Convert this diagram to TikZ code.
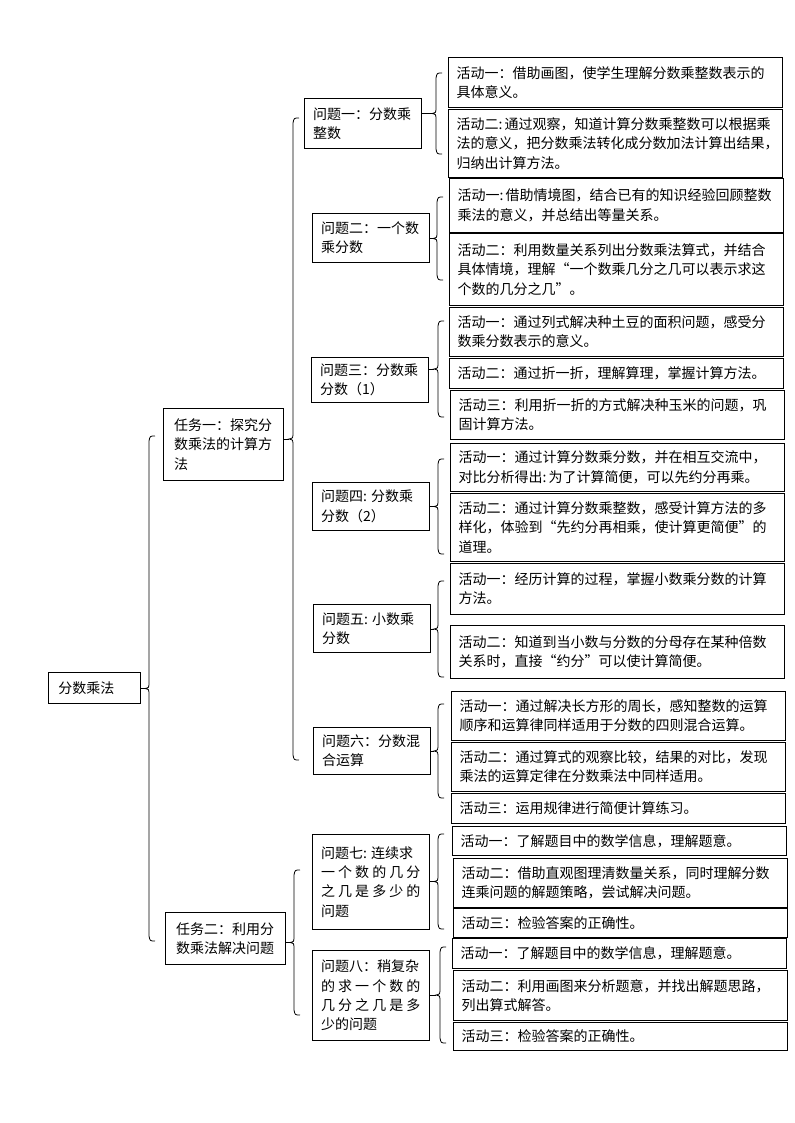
\documentclass[tikz,border=0pt]{standalone}
\usepackage{fontspec}
\setmainfont{Noto Sans CJK SC}
\usepackage{tikz}
\usetikzlibrary{positioning, calc}

\begin{document}
\begin{tikzpicture}[
    x=0.75pt, y=-0.75pt,
    every node/.style={font=\fontsize{10.5pt}{14.5pt}\selectfont},
    box/.style={rectangle, draw, line width=0.6pt, anchor=north west, align=left, inner ysep=2pt},
    rootbox/.style={box, text width=54pt, inner xsep=7.5pt},
    taskbox/.style={box, text width=74pt, inner xsep=8pt},
    qbox/.style={box, text width=74.5pt, inner xsep=6.5pt},
    actbox/.style={box, text width=238pt, inner xsep=6.25pt},
    brace/.style={line width=0.6pt}
]
\useasboundingbox (0,0) rectangle (794,1123);

% Root and tasks
\node[rootbox, minimum height=23.25pt] (root) at (48,672) {分数乘法};
\node[taskbox, minimum height=54pt] (task1) at (163,408) {任务一：探究分\\数乘法的计算方\\法};
\node[taskbox, minimum height=39pt] (task2) at (165,912) {任务二：利用分\\数乘法解决问题};

% Questions
\node[qbox, minimum height=37.5pt] (q1) at (304,98) {问题一：分数乘\\整数};
\node[qbox, minimum height=36.75pt] (q2) at (312,213) {问题二：一个数\\乘分数};
\node[qbox, minimum height=33.75pt] (q3) at (311,357) {问题三：分数乘\\分数（1）};
\node[qbox, minimum height=36pt] (q4) at (312,482) {问题四:\kern.3em 分数乘\\分数（2）};
\node[qbox, minimum height=36pt] (q5) at (313,604) {问题五:\kern.3em 小数乘\\分数};
\node[qbox, minimum height=35.25pt] (q6) at (313,727) {问题六：分数混\\合运算};
\node[qbox, minimum height=71.25pt] (q7) at (312,834) {问题七:\kern.3em 连续求\\
  \makebox[74.5pt][s]{一\hfill 个\hfill 数\hfill 的\hfill 几\hfill 分}\\
  \makebox[74.5pt][s]{之\hfill 几\hfill 是\hfill 多\hfill 少\hfill 的}\\问题};
\node[qbox, minimum height=67.5pt] (q8) at (312,950) {问题八：稍复杂\\
  \makebox[74.5pt][s]{的\hfill 求\hfill 一\hfill 个\hfill 数\hfill 的}\\
  \makebox[74.5pt][s]{几\hfill 分\hfill 之\hfill 几\hfill 是\hfill 多}\\少的问题};

% Activities
\node[actbox, minimum height=37.5pt] (q1a1) at (448,57) {活动一：借助画图，使学生理解分数乘整数表示的\\具体意义。};
\node[actbox, minimum height=51pt] (q1a2) at (448,109) {活动二:\kern.15em 通过观察，知道计算分数乘整数可以根据乘\\法的意义，把分数乘法转化成分数加法计算出结果，\\归纳出计算方法。};
\node[actbox, minimum height=40.5pt] (q2a1) at (449,178) {活动一:\kern.15em 借助情境图，结合已有的知识经验回顾整数\\乘法的意义，并总结出等量关系。};
\node[actbox, minimum height=54pt] (q2a2) at (449,233) {活动二：利用数量关系列出分数乘法算式，并结合\\具体情境，理解“一个数乘几分之几可以表示求这\\个数的几分之几”。};
\node[actbox, minimum height=36.75pt] (q3a1) at (449,307) {活动一：通过列式解决种土豆的面积问题，感受分\\数乘分数表示的意义。};
\node[actbox, minimum height=22.5pt] (q3a2) at (449,358) {活动二：通过折一折，理解算理，掌握计算方法。};
\node[actbox, minimum height=36.75pt] (q3a3) at (450,390) {活动三：利用折一折的方式解决种玉米的问题，巩\\固计算方法。};
\node[actbox, minimum height=36pt] (q4a1) at (450,443) {活动一：通过计算分数乘分数，并在相互交流中，\\对比分析得出:\kern.15em 为了计算简便，可以先约分再乘。};
\node[actbox, minimum height=51pt] (q4a2) at (450,493) {活动二：通过计算分数乘整数，感受计算方法的多\\样化，体验到“先约分再相乘，使计算更简便”的\\道理。};
\node[actbox, minimum height=38.25pt] (q5a1) at (450,563) {活动一：经历计算的过程，掌握小数乘分数的计算\\方法。};
\node[actbox, minimum height=39.75pt] (q5a2) at (450,625) {活动二：知道到当小数与分数的分母存在某种倍数\\关系时，直接“约分”可以使计算简便。};
\node[actbox, minimum height=36.75pt] (q6a1) at (451,691) {活动一：通过解决长方形的周长，感知整数的运算\\顺序和运算律同样适用于分数的四则混合运算。};
\node[actbox, minimum height=36.75pt] (q6a2) at (451,742) {活动二：通过算式的观察比较，结果的对比，发现\\乘法的运算定律在分数乘法中同样适用。};
\node[actbox, minimum height=22.5pt] (q6a3) at (451,793) {活动三：运用规律进行简便计算练习。};
\node[actbox, minimum height=21.75pt] (q7a1) at (452,826) {活动一：了解题目中的数学信息，理解题意。};
\node[actbox, minimum height=36.75pt] (q7a2) at (453,858) {活动二：借助直观图理清数量关系，同时理解分数\\连乘问题的解题策略，尝试解决问题。};
\node[actbox, minimum height=21.75pt] (q7a3) at (453,908) {活动三：检验答案的正确性。};
\node[actbox, minimum height=22.5pt] (q8a1) at (452,938) {活动一：了解题目中的数学信息，理解题意。};
\node[actbox, minimum height=37.5pt] (q8a2) at (453,970) {活动二：利用画图来分析题意，并找出解题思路，\\列出算式解答。};
\node[actbox, minimum height=21pt] (q8a3) at (453,1022) {活动三：检验答案的正确性。};

% Braces from each parent to its children
\foreach \p/\bx/\bt/\bb in {root/149/436/941, task1/293/118/760, task2/294/870/1015,
    q1/436/73/154, q2/437/197/280, q3/438/321/417, q4/438/459/554,
    q5/438/581/677, q6/438/704/798, q7/438/834/929, q8/440/947/1043}{
  \pgfmathsetmacro\bm{(\bt+\bb)/2}
  \coordinate (tip) at (\bx-4,\bm);
  \draw[brace] (\bx+6,\bt) .. controls (\bx+1,\bt) .. (\bx,\bt+5) -- (\bx,\bm-4)
    .. controls (\bx,\bm-1) .. (tip) .. controls (\bx,\bm+1) .. (\bx,\bm+4)
    -- (\bx,\bb-5) .. controls (\bx+1,\bb) .. (\bx+6,\bb);
  \draw[brace] (\p.east |- tip) -- (tip);
}

\end{tikzpicture}
\end{document}
